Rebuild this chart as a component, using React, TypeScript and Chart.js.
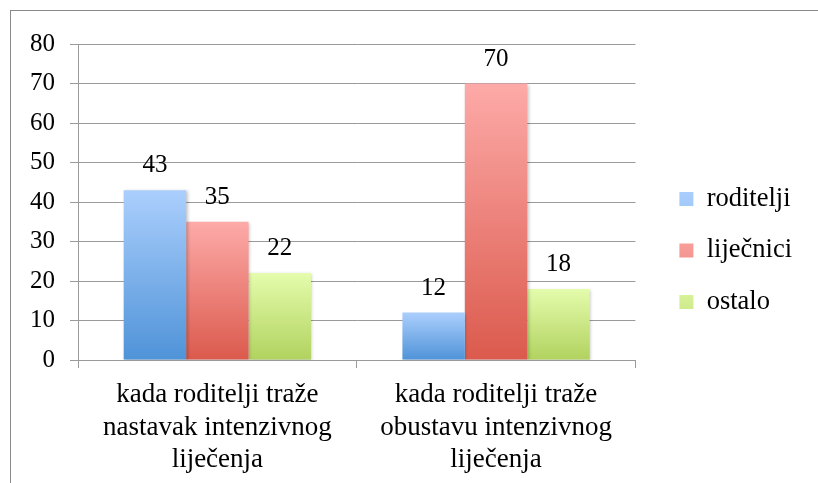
import { useEffect, useRef } from 'react';
import { Chart, registerables } from 'chart.js';

Chart.register(...registerables);

const categories: string[][] = [
  ['kada roditelji traže', 'nastavak intenzivnog', 'liječenja'],
  ['kada roditelji traže', 'obustavu intenzivnog', 'liječenja'],
];
const seriesNames = ['roditelji', 'liječnici', 'ostalo'];
const roditelji = [43, 12];
const lijecnici = [35, 70];
const ostalo = [22, 18];
const yMin = 0;
const yMax = 80;
const yStep = 10;

const FONT = '"Liberation Serif", "Times New Roman", serif';
const GRID = '#9a9a9a';

const palettes = [
  { top: '#abcffd', bottom: '#4f93d8', mid: '#80b2ec' },
  { top: '#fdaaa8', bottom: '#db5a4d', mid: '#f0837a' },
  { top: '#e4fcac', bottom: '#b1d25f', mid: '#cbe686' },
];

function gradientFor(idx: number) {
  return (c: any) => {
    const p = palettes[idx];
    const chart = c.chart;
    if (c.type !== 'data' || !chart.chartArea) return p.mid;
    const v = c.parsed ? c.parsed.y : c.raw;
    const y = chart.scales.y;
    const top = y.getPixelForValue(v);
    const base = y.getPixelForValue(0);
    if (!isFinite(top) || !isFinite(base) || top === base) return p.mid;
    const g = chart.ctx.createLinearGradient(0, top, 0, base);
    g.addColorStop(0, p.top);
    g.addColorStop(1, p.bottom);
    return g;
  };
}

const barDecor = {
  id: 'barDecor',
  beforeDatasetsDraw(chart: any) {
    const ctx = chart.ctx;
    ctx.save();
    ctx.shadowColor = 'rgba(0,0,0,0.22)';
    ctx.shadowBlur = 3;
    ctx.shadowOffsetX = 1.5;
    ctx.shadowOffsetY = 1;
  },
  afterDatasetsDraw(chart: any) {
    const ctx = chart.ctx;
    ctx.restore();
    ctx.save();
    ctx.font = `25px ${FONT}`;
    ctx.fillStyle = '#000';
    ctx.textAlign = 'center';
    ctx.textBaseline = 'alphabetic';
    chart.data.datasets.forEach((ds: any, i: number) => {
      const meta = chart.getDatasetMeta(i);
      meta.data.forEach((bar: any, j: number) => {
        ctx.fillText(String(ds.data[j]), bar.x, bar.y - 18);
      });
    });
    ctx.restore();
  },
};

export default function App() {
  const ref = useRef<HTMLCanvasElement | null>(null);

  useEffect(() => {
    if (!ref.current) return;
    const seriesValues = [roditelji, lijecnici, ostalo];
    const chart = new Chart(ref.current, {
      type: 'bar',
      data: {
        labels: categories,
        datasets: seriesNames.map((name, i) => ({
          label: name,
          data: seriesValues[i],
          backgroundColor: gradientFor(i),
          borderWidth: 0,
          categoryPercentage: 0.672,
          barPercentage: 1,
        })),
      },
      options: {
        responsive: false,
        animation: false,
        layout: { padding: { left: 20, top: 18, right: 16, bottom: 0 } },
        plugins: {
          tooltip: { enabled: false },
          title: {
            display: true,
            text: '',
            font: { size: 10, lineHeight: 1 },
            padding: { top: 16, bottom: 0 },
          },
          legend: {
            position: 'right',
            align: 'center',
            maxWidth: 300,
            labels: {
              boxWidth: 14,
              boxHeight: 14,
              padding: 25,
              color: '#000',
              font: { family: FONT, size: 26.5 },
            },
          },
        },
        scales: {
          x: {
            grid: {
              display: true,
              drawOnChartArea: false,
              drawTicks: true,
              tickLength: 8,
              color: GRID,
              offset: true,
            },
            border: { display: true, color: GRID },
            ticks: {
              color: '#000',
              font: { family: FONT, size: 27, lineHeight: 1.22 },
              padding: 10,
              maxRotation: 0,
              autoSkip: false,
            },
            afterFit: (s: any) => {
              s.height = 123;
            },
          },
          y: {
            min: yMin,
            max: yMax,
            grid: { color: GRID, tickLength: 8 },
            border: { display: true, color: GRID },
            ticks: {
              stepSize: yStep,
              color: '#000',
              font: { family: FONT, size: 25 },
              padding: 15,
            },
            afterFit: (s: any) => {
              s.width = 58;
            },
          },
          y2: {
            position: 'right',
            display: true,
            grid: { display: false, drawTicks: false },
            border: { display: false },
            ticks: { display: false },
            afterFit: (s: any) => {
              s.width = 19;
            },
          },
        },
      },
      plugins: [barDecor],
    } as any);
    return () => chart.destroy();
  }, []);

  return (
    <div
      style={{
        position: 'fixed',
        left: 0,
        top: 0,
        width: 818,
        height: 483,
        overflow: 'hidden',
        background: '#fff',
      }}
    >
      <div
        style={{
          position: 'absolute',
          left: 10,
          top: 10,
          width: 900,
          height: 600,
          border: '1px solid #8a8a8a',
        }}
      />
      <canvas
        ref={ref}
        width={818}
        height={483}
        style={{ position: 'absolute', left: 0, top: 0, display: 'block' }}
      />
    </div>
  );
}
